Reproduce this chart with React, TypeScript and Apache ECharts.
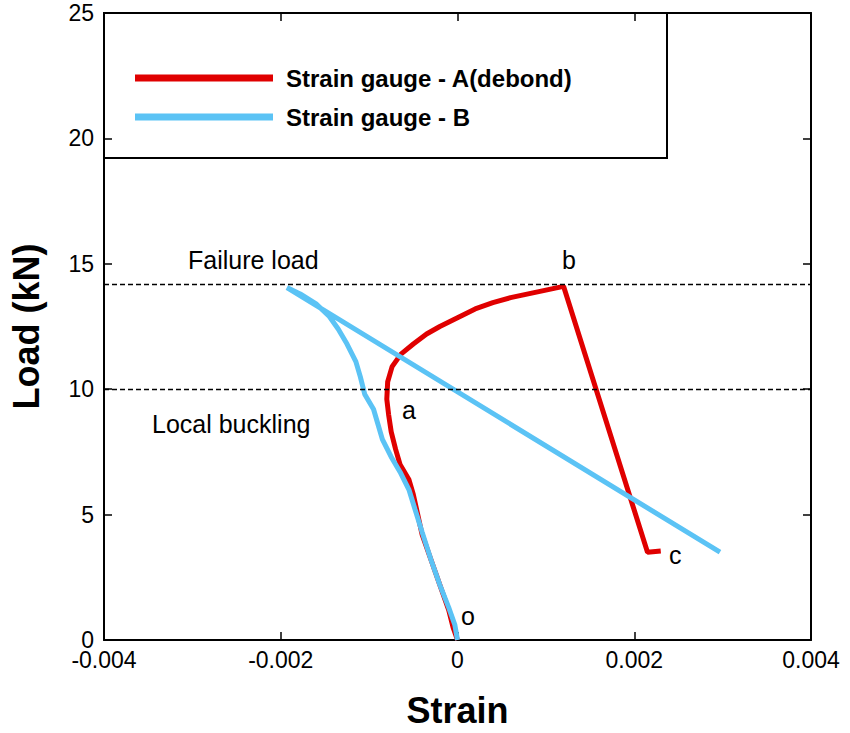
import React, { useEffect, useRef } from "react";
import * as echarts from "echarts";

const gaugeA: [number, number][] = [
  [0, 0], [-0.00005, 0.5], [-0.0001, 1.2], [-0.0002, 2.2], [-0.0003, 3.2], [-0.0004, 4.2],
  [-0.00045, 5.0], [-0.0005, 5.8], [-0.00055, 6.4], [-0.00065, 7.0], [-0.0007, 7.6],
  [-0.00075, 8.3], [-0.00078, 9.0], [-0.0008, 9.6], [-0.00079, 10.3], [-0.00074, 10.9],
  [-0.00064, 11.4], [-0.0005, 11.8], [-0.00035, 12.2], [-0.0002, 12.5], [0, 12.85],
  [0.0002, 13.2], [0.0004, 13.45], [0.0006, 13.65], [0.0008, 13.8], [0.001, 13.95],
  [0.0012, 14.1], [0.00215, 3.5], [0.0023, 3.55]
];
const gaugeB: [number, number][] = [
  [0, 0], [-0.00003, 0.6], [-0.0001, 1.3], [-0.0002, 2.2], [-0.0003, 3.2], [-0.0004, 4.3],
  [-0.00048, 5.2], [-0.00055, 6.0], [-0.00065, 6.7], [-0.00075, 7.3], [-0.00085, 8.0],
  [-0.0009, 8.6], [-0.00095, 9.2], [-0.00105, 9.8], [-0.0011, 10.5], [-0.00115, 11.1],
  [-0.00125, 11.8], [-0.00135, 12.4], [-0.00145, 12.9], [-0.0016, 13.4], [-0.00178, 13.8],
  [-0.00193, 14.05], [0.00297, 3.5]
];
const failureLoad = 14.2;
const localBuckling = 10;

export default function App() {
  const ref = useRef<HTMLDivElement>(null);
  useEffect(() => {
    const chart = echarts.init(ref.current!, undefined, { renderer: "svg" });
    const font = "Helvetica, Liberation Sans, Arial, sans-serif";
    const axisCommon = {
      axisLine: { show: true, onZero: false, lineStyle: { color: "#000", width: 2 } },
      axisTick: { show: true, inside: true, length: 8, lineStyle: { color: "#000", width: 1.5 } },
      splitLine: { show: false },
    };
    chart.setOption({
      animation: false,
      grid: { left: 104, right: 39, top: 13, bottom: 88 },
      legend: {
        left: 130, top: 61, orient: "vertical", itemGap: 15, itemWidth: 138, itemHeight: 7,
        icon: "rect",
        textStyle: { fontFamily: font, fontWeight: "bold", fontSize: 24, color: "#000", padding: [0, 0, 0, 8] },
      },
      xAxis: [
        { type: "value", min: -0.004, max: 0.004, interval: 0.002, ...axisCommon,
          name: "Strain", nameLocation: "middle", nameGap: 52,
          nameTextStyle: { fontFamily: font, fontWeight: "bold", fontSize: 36, color: "#000" },
          axisLabel: { fontFamily: font, fontSize: 23, color: "#000", margin: 8,
            formatter: (v: number) => (v === 0 ? "0" : String(+v.toFixed(3))) } },
        { type: "value", position: "top", min: -0.004, max: 0.004, interval: 0.002, ...axisCommon, axisLabel: { show: false } },
      ],
      yAxis: [
        { type: "value", min: 0, max: 25, interval: 5, ...axisCommon,
          name: "Load (kN)", nameLocation: "middle", nameGap: 60,
          nameTextStyle: { fontFamily: font, fontWeight: "bold", fontSize: 36, color: "#000" },
          axisLabel: { fontFamily: font, fontSize: 23, color: "#000", margin: 10 } },
        { type: "value", position: "right", min: 0, max: 25, interval: 5, ...axisCommon, axisLabel: { show: false } },
      ],
      series: [
        { name: "Strain gauge - A(debond)", type: "line", data: gaugeA, symbol: "none",
          lineStyle: { color: "#e00000", width: 5 }, itemStyle: { color: "#e00000" },
          markLine: { silent: true, symbol: "none", label: { show: false },
            lineStyle: { color: "#000", type: [5, 3], width: 1.3 },
            data: [{ yAxis: failureLoad }, { yAxis: localBuckling }] } },
        { name: "Strain gauge - B", type: "line", data: gaugeB, symbol: "none",
          lineStyle: { color: "#5bc3f5", width: 5 }, itemStyle: { color: "#5bc3f5" } },
      ],
      graphic: [
        { type: "rect", shape: { x: 104, y: 13, width: 563, height: 145 }, style: { fill: "none", stroke: "#000", lineWidth: 2 }, z: 10 },
        { type: "text", x: 188, y: 247, style: { text: "Failure load", font: `25px ${font}`, fill: "#000" } },
        { type: "text", x: 562, y: 247, style: { text: "b", font: `25px ${font}`, fill: "#000" } },
        { type: "text", x: 152, y: 411, style: { text: "Local buckling", font: `25px ${font}`, fill: "#000" } },
        { type: "text", x: 402, y: 397, style: { text: "a", font: `25px ${font}`, fill: "#000" } },
        { type: "text", x: 669, y: 542, style: { text: "c", font: `25px ${font}`, fill: "#000" } },
        { type: "text", x: 461, y: 603, style: { text: "o", font: `25px ${font}`, fill: "#000" } },
      ],
    });
    return () => chart.dispose();
  }, []);
  return <div ref={ref} style={{ position: "fixed", left: 0, top: 0, width: 850, height: 733, background: "#fff" }} />;
}
